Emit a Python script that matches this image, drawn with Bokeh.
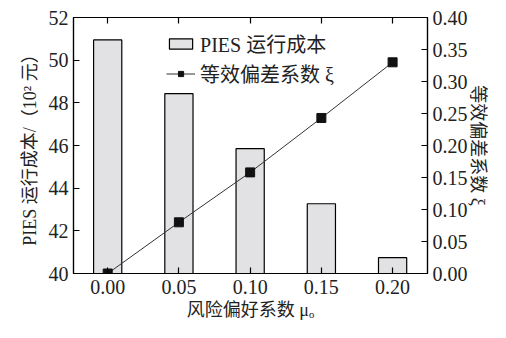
import math
from bokeh.plotting import figure
from bokeh.models import (Range1d, LinearAxis, FixedTicker, NumeralTickFormatter,
                          Legend, LegendItem, ColumnDataSource)
from bokeh.embed import file_html
from bokeh.resources import INLINE

# data
mu = [0.00, 0.05, 0.10, 0.15, 0.20]
cost = [50.95, 48.43, 45.85, 43.27, 40.74]
xi = [0.000, 0.080, 0.158, 0.243, 0.330]

x_ticks = [0.00, 0.05, 0.10, 0.15, 0.20]
y_ticks = [40, 42, 44, 46, 48, 50, 52]
xi_ticks = [0.00, 0.05, 0.10, 0.15, 0.20, 0.25, 0.30, 0.35, 0.40]

bar_label = "PIES 运行成本"
line_label = "等效偏差系数 ξ"
x_title = "风险偏好系数 μₒ"
y_title = "PIES 运行成本/（10² 元）"
y2_title = "等效偏差系数 ξ"

SERIF = "Liberation Serif, Noto Sans CJK SC"
TXT = "#222222"

src = ColumnDataSource(dict(mu=mu, cost=cost, xi=xi))

p = figure(width=490, height=322, output_backend="svg", toolbar_location=None,
           x_range=Range1d(-0.024, 0.2245), y_range=Range1d(40, 52),
           min_border_left=73, min_border_right=62, min_border_top=17,
           min_border_bottom=49)
p.extra_y_ranges = {"xi": Range1d(0, 0.4)}
p.grid.visible = False
p.outline_line_color = "black"
p.outline_line_width = 1.2
p.background_fill_color = "white"
p.border_fill_color = "white"

bars = p.vbar(x="mu", top="cost", bottom=40, width=0.0198, source=src,
              fill_color="#e2e2e4", line_color="black", line_width=1.2)
ln = p.line(x="mu", y="xi", source=src, y_range_name="xi",
            line_color="#333333", line_width=1)
sc = p.scatter(x="mu", y="xi", source=src, y_range_name="xi", marker="square",
               size=9, fill_color="#111111", line_color="#111111")

def style_axis(ax):
    ax.major_label_text_font = SERIF
    ax.major_label_text_font_size = "20px"
    ax.major_label_text_color = TXT
    ax.axis_label_text_font = SERIF
    ax.axis_label_text_font_size = "18px"
    ax.axis_label_text_font_style = "normal"
    ax.axis_label_text_color = TXT
    ax.major_tick_in = 6
    ax.major_tick_out = 0
    ax.minor_tick_line_color = None
    ax.axis_line_color = "black"
    ax.axis_line_width = 1.2
    ax.major_tick_line_width = 1.2

xa = p.xaxis[0]
style_axis(xa)
xa.ticker = FixedTicker(ticks=x_ticks)
xa.formatter = NumeralTickFormatter(format="0.00")
xa.major_label_standoff = 6
xa.axis_label = x_title
xa.axis_label_standoff = 3

ya = p.yaxis[0]
style_axis(ya)
ya.ticker = FixedTicker(ticks=y_ticks)
ya.major_label_standoff = 5
ya.axis_label = y_title
ya.axis_label_standoff = 6

ra = LinearAxis(y_range_name="xi")
style_axis(ra)
ra.ticker = FixedTicker(ticks=xi_ticks)
ra.formatter = NumeralTickFormatter(format="0.00")
ra.major_label_standoff = 5
ra.axis_label = y2_title
ra.axis_label_standoff = -3
p.add_layout(ra, "right")

ta = LinearAxis()
style_axis(ta)
ta.ticker = FixedTicker(ticks=x_ticks)
ta.major_label_text_color = None
ta.major_label_text_font_size = "1px"
ta.major_label_standoff = 0
p.add_layout(ta, "above")

legend = Legend(items=[LegendItem(label=bar_label, renderers=[bars]),
                       LegendItem(label=line_label, renderers=[ln, sc])],
                location="top_center", border_line_color=None,
                background_fill_alpha=0, margin=12, padding=0, spacing=1,
                glyph_width=29, glyph_height=13, label_standoff=5,
                label_text_font=SERIF, label_text_font_size="20px",
                label_text_color=TXT)
p.add_layout(legend)

open("out.html", "w").write(file_html(p, INLINE))
